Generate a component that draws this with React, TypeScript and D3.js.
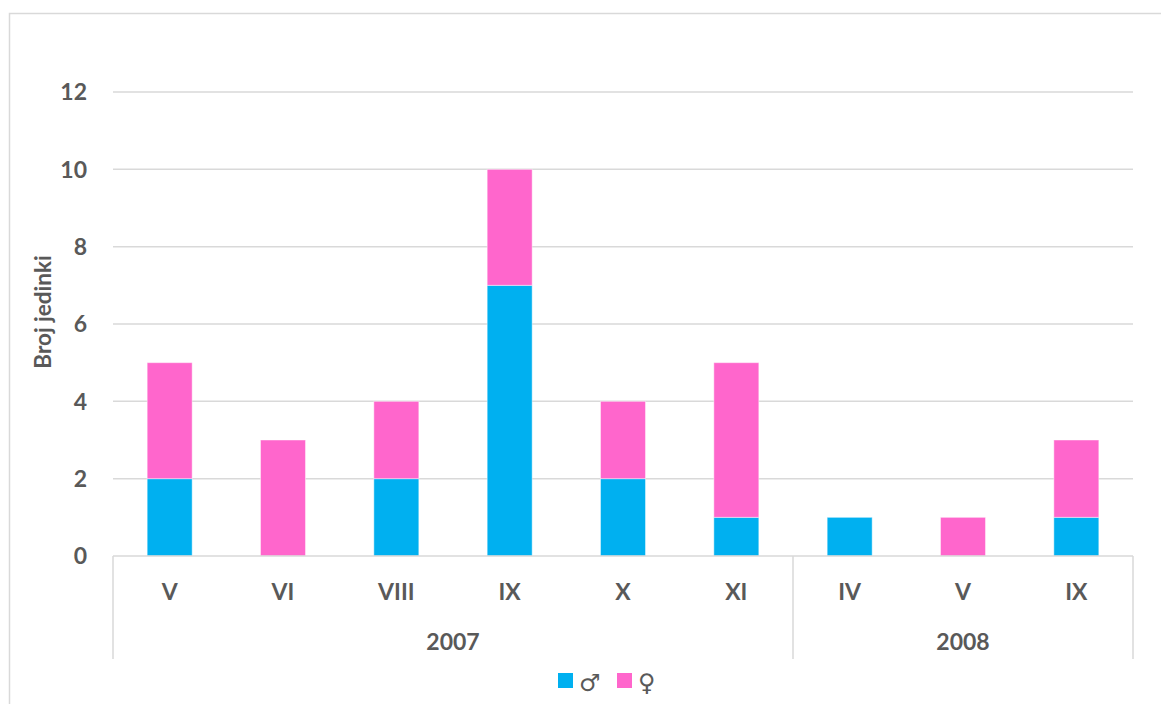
import React, { useEffect, useRef } from 'react'
import * as d3 from 'd3'

const months = ['V', 'VI', 'VIII', 'IX', 'X', 'XI', 'IV', 'V', 'IX']
const years = ['2007', '2007', '2007', '2007', '2007', '2007', '2008', '2008', '2008']
const males = [2, 0, 2, 7, 2, 1, 1, 0, 1]
const females = [3, 3, 2, 3, 2, 4, 0, 1, 2]
const yTicks = [0, 2, 4, 6, 8, 10, 12]
const seriesNames = ['♂', '♀']

const W = 1161
const H = 704
const FONT = 'Lato, "Open Sans", sans-serif'
const TEXT = '#595959'
const COLORS = ['#00B0F0', '#FF66CC']

export default function App() {
  const ref = useRef<SVGSVGElement>(null)

  useEffect(() => {
    const svg = d3.select(ref.current)
    svg.selectAll('*').remove()

    const left = 113, right = 1133, top = 92, bottom = 556

    const x = d3.scaleBand<number>()
      .domain(months.map((_, i) => i))
      .range([left, right])
      .paddingInner(0.603)
      .paddingOuter(0.3015)

    const y = d3.scaleLinear().domain([0, 12]).range([bottom, top])

    // chart border
    svg.append('rect')
      .attr('x', 9.5).attr('y', 13.5)
      .attr('width', 1300).attr('height', 900)
      .attr('fill', 'white')
      .attr('stroke', '#d9d9d9').attr('stroke-width', 1.5)

    // grid
    svg.append('g').selectAll('line')
      .data(yTicks.filter(t => t > 0))
      .enter().append('line')
      .attr('x1', left).attr('x2', right)
      .attr('y1', d => y(d)).attr('y2', d => y(d))
      .attr('stroke', '#d9d9d9').attr('stroke-width', 1.5)

    svg.append('g').selectAll('text')
      .data(yTicks)
      .enter().append('text')
      .attr('x', 87).attr('y', d => y(d))
      .attr('dy', '0.36em')
      .attr('text-anchor', 'end')
      .attr('font-family', FONT).attr('font-weight', 700)
      .attr('font-size', 23).attr('fill', TEXT)
      .text(d => d)

    // stacked bars
    const stackData = months.map((_, i) => ({ i, m: males[i], f: females[i] }))
    const stacked = d3.stack<any>().keys(['m', 'f'])(stackData)
    svg.append('g').selectAll('g')
      .data(stacked)
      .enter().append('g')
      .attr('fill', (_, k) => COLORS[k])
      .selectAll('rect')
      .data(d => d.filter(p => p[1] - p[0] > 0))
      .enter().append('rect')
      .attr('x', d => x(d.data.i) as number)
      .attr('width', x.bandwidth())
      .attr('y', d => y(d[1]))
      .attr('height', d => y(d[0]) - y(d[1]))
      .attr('stroke', 'rgba(255,255,255,0.45)').attr('stroke-width', 1)

    // category axis
    svg.append('line')
      .attr('x1', left).attr('x2', right)
      .attr('y1', bottom).attr('y2', bottom)
      .attr('stroke', '#d9d9d9').attr('stroke-width', 1.5)

    const step = x.step()
    const groups = d3.groups(months.map((_, i) => i), i => years[i])
    const seps = [left]
    groups.forEach(([, idx]) => seps.push(left + step * (idx[idx.length - 1] + 1)))
    svg.append('g').selectAll('line')
      .data(seps)
      .enter().append('line')
      .attr('x1', d => d).attr('x2', d => d)
      .attr('y1', bottom).attr('y2', 659)
      .attr('stroke', '#d9d9d9').attr('stroke-width', 1.5)

    svg.append('g').selectAll('text')
      .data(months)
      .enter().append('text')
      .attr('x', (_, i) => (x(i) as number) + x.bandwidth() / 2)
      .attr('y', 592).attr('dy', '0.36em')
      .attr('text-anchor', 'middle')
      .attr('font-family', FONT).attr('font-weight', 700)
      .attr('font-size', 23).attr('fill', TEXT)
      .text(d => d)

    svg.append('g').selectAll('text')
      .data(groups)
      .enter().append('text')
      .attr('x', ([, idx]) => left + step * (idx[0] + idx[idx.length - 1] + 1) / 2)
      .attr('y', 642).attr('dy', '0.36em')
      .attr('text-anchor', 'middle')
      .attr('font-family', FONT).attr('font-weight', 700)
      .attr('font-size', 23).attr('fill', TEXT)
      .text(d => d[0])

    // axis title
    svg.append('text')
      .attr('transform', `translate(43, 312) rotate(-90)`)
      .attr('dy', '0.36em')
      .attr('text-anchor', 'middle')
      .attr('font-family', FONT).attr('font-weight', 700)
      .attr('font-size', 22.5).attr('fill', TEXT)
      .text('Broj jedinki')

    // legend
    const legend = svg.append('g')
    const lx = [558, 617]
    seriesNames.forEach((name, k) => {
      legend.append('rect')
        .attr('x', lx[k]).attr('y', 673)
        .attr('width', 15).attr('height', 15)
        .attr('fill', COLORS[k])
      legend.append('text')
        .attr('x', lx[k] + 21).attr('y', 682).attr('dy', '0.36em')
        .attr('font-family', '"DejaVu Sans", sans-serif').attr('font-weight', 700)
        .attr('font-size', 24).attr('fill', TEXT)
        .text(name)
    })
  }, [])

  return (
    <div style={{ position: 'absolute', left: 0, top: 0 }}>
      <svg ref={ref} width={W} height={H} style={{ display: 'block', background: 'white' }} />
    </div>
  )
}
